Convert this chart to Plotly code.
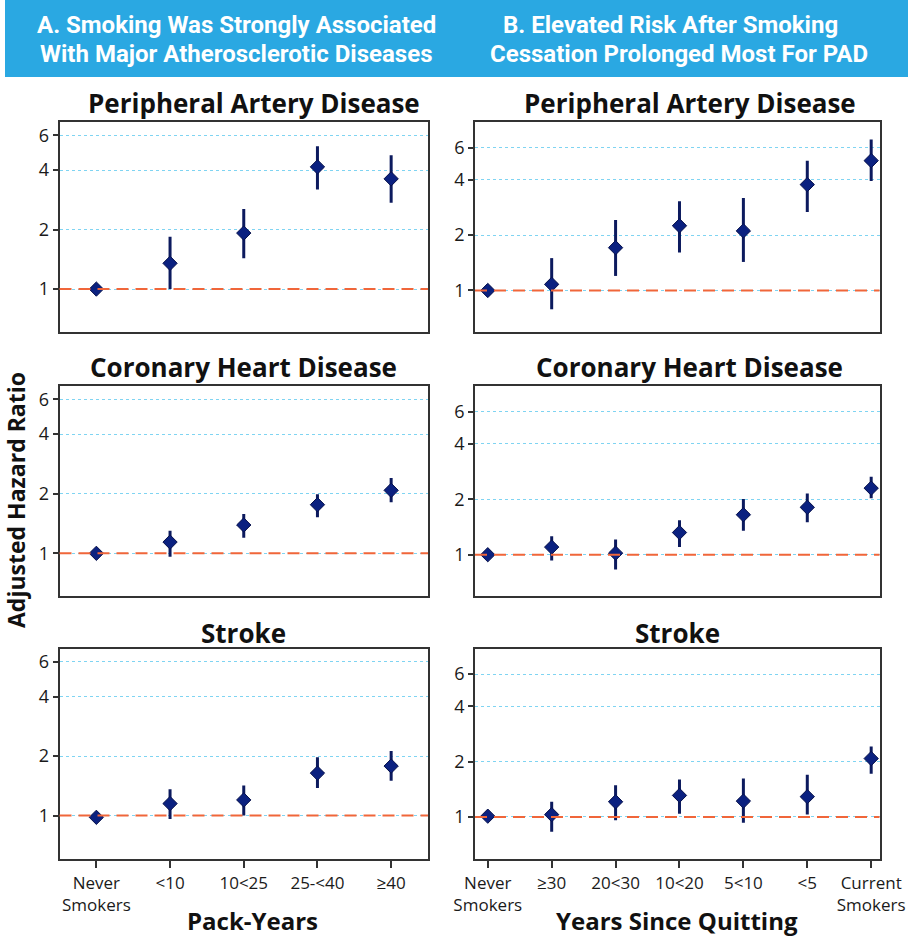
import plotly.graph_objects as go

W, H = 913, 939

pack_cats = ["Never<br>Smokers", "<10", "10<25", "25-<40", "≥40"]
quit_cats = ["Never<br>Smokers", "≥30", "20<30", "10<20", "5<10", "<5", "Current<br>Smokers"]
y_ticks = [1, 2, 4, 6]

# Panel A (pack-years)
pad_pack_hr = [1.0, 1.35, 1.92, 4.15, 3.61]
pad_pack_lo = [1.0, 1.0, 1.43, 3.19, 2.73]
pad_pack_hi = [1.0, 1.84, 2.54, 5.27, 4.75]

chd_pack_hr = [1.0, 1.14, 1.39, 1.76, 2.08]
chd_pack_lo = [1.0, 0.96, 1.20, 1.52, 1.81]
chd_pack_hi = [1.0, 1.30, 1.58, 1.99, 2.40]

stroke_pack_hr = [0.98, 1.15, 1.20, 1.64, 1.78]
stroke_pack_lo = [0.98, 0.96, 1.00, 1.38, 1.50]
stroke_pack_hi = [0.98, 1.36, 1.42, 1.97, 2.12]

# Panel B (years since quitting)
pad_quit_hr = [1.0, 1.08, 1.71, 2.25, 2.11, 3.77, 5.09]
pad_quit_lo = [1.0, 0.79, 1.20, 1.61, 1.43, 2.67, 3.94]
pad_quit_hi = [1.0, 1.50, 2.42, 3.06, 3.19, 5.09, 6.64]

chd_quit_hr = [1.0, 1.10, 1.02, 1.32, 1.65, 1.81, 2.30]
chd_quit_lo = [1.0, 0.93, 0.83, 1.10, 1.35, 1.50, 2.03]
chd_quit_hi = [1.0, 1.26, 1.21, 1.54, 2.01, 2.15, 2.65]

stroke_quit_hr = [1.01, 1.03, 1.21, 1.31, 1.22, 1.29, 2.08]
stroke_quit_lo = [1.01, 0.83, 0.96, 1.04, 0.93, 1.03, 1.72]
stroke_quit_hi = [1.01, 1.21, 1.49, 1.60, 1.62, 1.70, 2.42]

panel_titles = ["Peripheral Artery Disease", "Coronary Heart Disease", "Stroke"]

NAVY = "#0b2180"
ERR = "#0c1a5e"
REF = "#f0663a"
GRID = "#7fd4f2"

def px_x(p):
    return p / W

def px_y(p):
    return 1 - p / H

left_dom = [px_x(59.5), px_x(428)]
right_dom = [px_x(475), px_x(879.5)]
row_doms = [
    [px_y(332), px_y(122)],
    [px_y(596.3), px_y(386)],
    [px_y(858.5), px_y(648.5)],
]

panels = [
    (pack_cats, pad_pack_hr, pad_pack_lo, pad_pack_hi, "left", 0),
    (quit_cats, pad_quit_hr, pad_quit_lo, pad_quit_hi, "right", 0),
    (pack_cats, chd_pack_hr, chd_pack_lo, chd_pack_hi, "left", 1),
    (quit_cats, chd_quit_hr, chd_quit_lo, chd_quit_hi, "right", 1),
    (pack_cats, stroke_pack_hr, stroke_pack_lo, stroke_pack_hi, "left", 2),
    (quit_cats, stroke_quit_hr, stroke_quit_lo, stroke_quit_hi, "right", 2),
]

fig = go.Figure()
layout = {}
shapes = []

for i, (cats, hr, lo, hi, side, row) in enumerate(panels):
    n = i + 1
    xa = "x" if n == 1 else f"x{n}"
    ya = "y" if n == 1 else f"y{n}"
    xkey = "xaxis" if n == 1 else f"xaxis{n}"
    ykey = "yaxis" if n == 1 else f"yaxis{n}"
    plus = [h - v for h, v in zip(hi, hr)]
    minus = [v - l for v, l in zip(hr, lo)]
    fig.add_trace(go.Scatter(
        x=cats, y=hr, mode="markers", xaxis=xa, yaxis=ya, showlegend=False,
        marker=dict(symbol="diamond", size=11, color=NAVY,
                    line=dict(color="#06104a", width=1)),
        error_y=dict(type="data", symmetric=False, array=plus, arrayminus=minus,
                     color=ERR, thickness=3, width=0),
    ))
    bottom = row == 2
    if side == "left":
        xr = [-0.5, 4.5]
        yr = [-0.217, 0.845]
        dom = left_dom
    else:
        xr = [-0.2, 6.13]
        yr = [-0.226, 0.917]
        dom = right_dom
    layout[xkey] = dict(
        domain=dom, anchor=ya, type="category", range=xr, automargin=False,
        categoryorder="array", categoryarray=cats,
        showline=True, mirror=True, linecolor="#333333", linewidth=1.5,
        showgrid=False, zeroline=False,
        ticks="outside" if bottom else "", ticklen=8, tickwidth=1.5, tickcolor="#333333",
        showticklabels=bottom,
        tickfont=dict(family="Open Sans", size=17, color="#1a1a1a"),
    )
    layout[ykey] = dict(
        domain=row_doms[row], anchor=xa, type="log", range=yr, automargin=False,
        tickvals=y_ticks, ticktext=[str(t) for t in y_ticks],
        showline=True, mirror=True, linecolor="#333333", linewidth=1.5,
        showgrid=True, gridcolor=GRID, griddash="dot", gridwidth=1,
        zeroline=False,
        ticks="outside", ticklen=5, tickwidth=1.5, tickcolor="#333333",
        tickfont=dict(family="Open Sans", size=18, color="#1a1a1a"),
    )
    shapes.append(dict(
        type="line", xref=f"{xa} domain", yref=ya, x0=0, x1=1, y0=1, y1=1,
        line=dict(color=REF, width=2, dash="12px,7px"), layer="above",
    ))

# Banner
shapes.insert(0, dict(type="rect", xref="paper", yref="paper",
                      x0=px_x(5), x1=px_x(908), y0=px_y(77), y1=px_y(0),
                      fillcolor="#2aa8e2", line=dict(width=0), layer="below"))

annotations = []

def add_text(text, x, y, size, color="#111111", family="Open Sans", angle=0):
    annotations.append(dict(text=text, x=px_x(x), y=px_y(y), xref="paper", yref="paper",
                            xanchor="center", yanchor="middle", showarrow=False,
                            textangle=angle, align="center",
                            font=dict(family=family, size=size, color=color)))

add_text("<b>A. Smoking Was Strongly Associated</b>", 236, 25, 24, color="white", family="Roboto")
add_text("<b>With Major Atherosclerotic Diseases</b>", 236, 54, 24, color="white", family="Roboto")
add_text("<b>B. Elevated Risk After Smoking</b>", 670, 25, 24, color="white", family="Roboto")
add_text("<b>Cessation Prolonged Most For PAD</b>", 679, 54, 24, color="white", family="Roboto")

title_pos = [
    (254, 103), (690, 103),
    (244, 367), (689, 367),
    (244, 633), (677, 633),
]
for i, (tx, ty) in enumerate(title_pos):
    add_text(f"<b>{panel_titles[i // 2]}</b>", tx, ty, 26)

add_text("<b>Pack-Years</b>", 252, 920, 24)
add_text("<b>Years Since Quitting</b>", 677, 920, 24)
add_text("<b>Adjusted Hazard Ratio</b>", 16, 500, 23, angle=-90)

fig.update_layout(
    width=W, height=H, margin=dict(l=0, r=0, t=0, b=0, autoexpand=False),
    paper_bgcolor="white", plot_bgcolor="white",
    shapes=shapes, annotations=annotations, **layout,
)

fig.write_html("out.html", config={"displayModeBar": False},
               post_script="document.body.style.margin='0px';")
